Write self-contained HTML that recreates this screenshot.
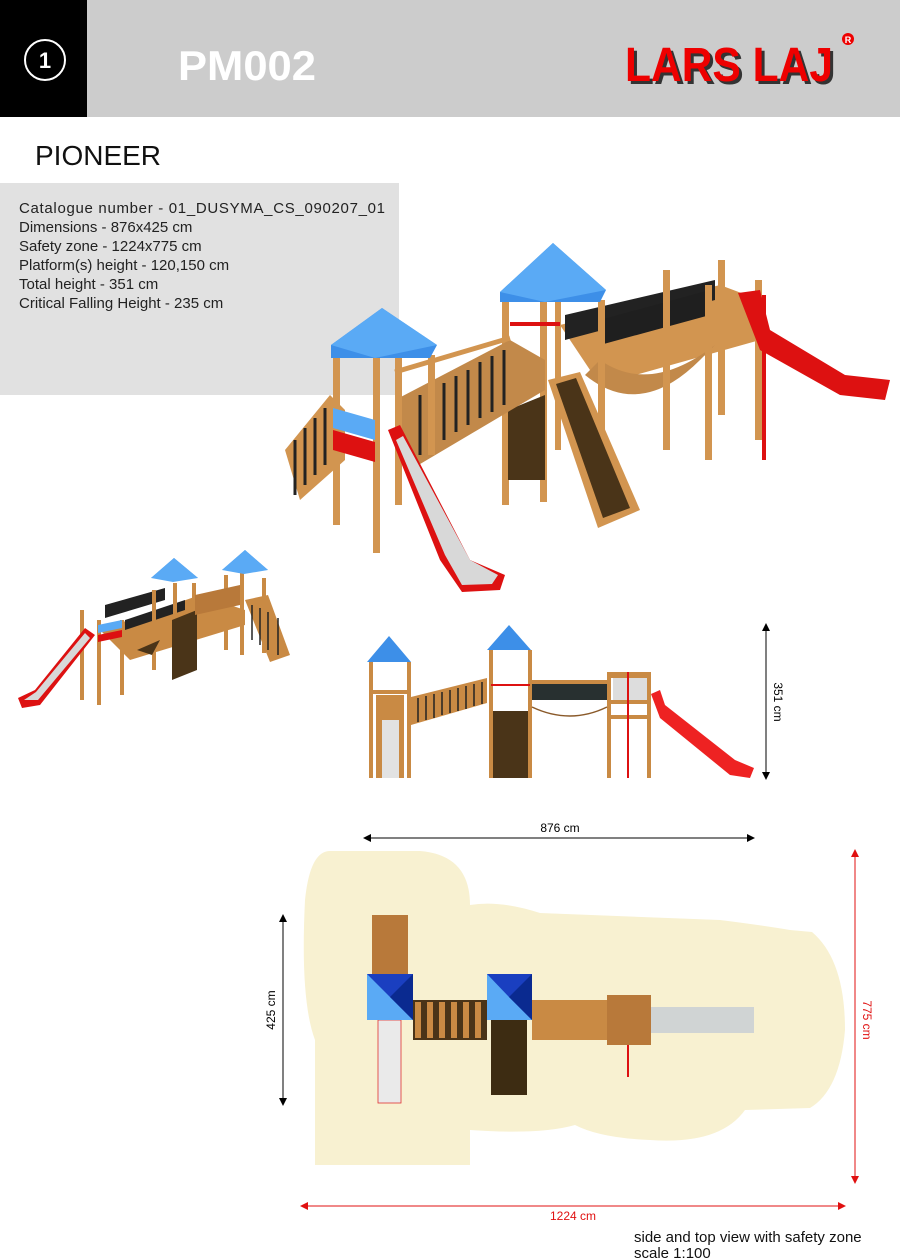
<!DOCTYPE html>
<html><head><meta charset="utf-8"><style>
html,body{margin:0;padding:0;background:#fff;}
svg{display:block;font-family:"Liberation Sans",sans-serif;}
</style></head><body>
<svg width="900" height="1259" viewBox="0 0 900 1259" xmlns="http://www.w3.org/2000/svg">
<rect x="0" y="0" width="900" height="117" fill="#cccccc"/>
<rect x="0" y="0" width="87" height="117" fill="#000"/>
<circle cx="45" cy="60" r="20" fill="none" stroke="#fff" stroke-width="2"/>
<text x="45" y="68" fill="#fff" font-size="22" font-weight="bold" text-anchor="middle">1</text>
<text x="178" y="80" fill="#fff" font-size="42" font-weight="bold" textLength="138" lengthAdjust="spacingAndGlyphs">PM002</text>
<text x="628" y="84" fill="#333" font-size="48" font-weight="bold" textLength="208" lengthAdjust="spacingAndGlyphs">LARS LAJ</text>
<text x="625" y="81" fill="#ee0000" font-size="48" font-weight="bold" textLength="208" lengthAdjust="spacingAndGlyphs">LARS LAJ</text>
<circle cx="848" cy="39" r="6" fill="#ee0000"/>
<text x="848" y="43" fill="#fff" font-size="9" font-weight="bold" text-anchor="middle">R</text>

<text x="35" y="165" fill="#111" font-size="28">PIONEER</text>
<rect x="0" y="183" width="399" height="212" fill="#e1e1e1"/>
<g font-size="15" fill="#222">
<text x="19" y="213" textLength="366" lengthAdjust="spacing">Catalogue number -  01_DUSYMA_CS_090207_01</text>
<text x="19" y="232">Dimensions - 876x425 cm</text>
<text x="19" y="251">Safety zone - 1224x775 cm</text>
<text x="19" y="270">Platform(s) height - 120,150 cm</text>
<text x="19" y="289">Total height - 351 cm</text>
<text x="19" y="308">Critical Falling Height - 235 cm</text>
</g>

<g>
<polygon points="560,325 720,285 760,300 760,340 600,385" fill="#d29550"/>
<polygon points="565,315 715,280 715,300 565,340" fill="#222"/>
<polygon points="600,320 710,290 710,315 600,345" fill="#1f1f1f"/>
<path d="M585,375 Q640,420 700,360 L715,345 Q650,395 600,360 Z" fill="#c2894a"/>
<g fill="#d29550">
<rect x="663" y="270" width="7" height="180"/><rect x="705" y="285" width="7" height="175"/>
<rect x="718" y="260" width="7" height="155"/><rect x="755" y="280" width="7" height="160"/>
</g>
<rect x="762" y="295" width="4" height="165" fill="#dd1111"/>
<path d="M738,293 L760,290 L770,330 L845,375 L890,380 L885,400 L840,395 L760,350 Z" fill="#dd1111"/>
<g fill="#d29550">
<rect x="502" y="300" width="7" height="205"/><rect x="540" y="302" width="7" height="200"/>
<rect x="598" y="300" width="7" height="130"/><rect x="555" y="300" width="6" height="150"/>
</g>
<polygon points="553,243 606,290 600,302 500,302 500,292" fill="#3d8fe8"/>
<polygon points="553,243 606,290 545,302 500,292" fill="#5aaaf5"/>
<rect x="510" y="322" width="50" height="4" fill="#dd1111"/>
<polygon points="508,410 545,395 545,480 508,480" fill="#4a3418"/>
<polygon points="548,380 580,372 640,510 598,528" fill="#d29550"/>
<polygon points="556,384 576,378 630,508 603,518" fill="#4a3418"/>
<polygon points="395,400 510,340 545,360 545,390 410,470" fill="#c2894a"/>
<g stroke="#222" stroke-width="3">
<line x1="420" y1="395" x2="420" y2="455"/><line x1="432" y1="390" x2="432" y2="448"/>
<line x1="444" y1="383" x2="444" y2="440"/><line x1="456" y1="376" x2="456" y2="432"/>
<line x1="468" y1="370" x2="468" y2="425"/><line x1="480" y1="362" x2="480" y2="418"/>
<line x1="492" y1="356" x2="492" y2="412"/><line x1="504" y1="350" x2="504" y2="405"/>
</g>
<line x1="395" y1="372" x2="510" y2="338" stroke="#d29550" stroke-width="5"/>
<polygon points="285,450 330,395 345,410 345,460 300,500" fill="#d29550"/>
<g stroke="#222" stroke-width="3">
<line x1="295" y1="440" x2="295" y2="495"/><line x1="305" y1="428" x2="305" y2="485"/>
<line x1="315" y1="418" x2="315" y2="475"/><line x1="325" y1="408" x2="325" y2="465"/>
</g>
<g fill="#d29550">
<rect x="333" y="355" width="7" height="170"/><rect x="373" y="358" width="7" height="195"/>
<rect x="395" y="355" width="7" height="150"/><rect x="428" y="355" width="7" height="100"/>
</g>
<polygon points="333,408 375,420 375,440 333,428" fill="#5aaaf5"/>
<polygon points="333,430 375,442 375,462 333,450" fill="#dd1111"/>
<polygon points="382,308 437,345 430,358 331,358 331,345" fill="#3d8fe8"/>
<polygon points="382,308 437,345 375,358 331,345" fill="#5aaaf5"/>
<polygon points="388,430 400,425 470,560 505,575 500,590 462,592 440,560" fill="#dd1111"/>
<polygon points="396,440 403,436 470,560 498,575 492,584 462,585 445,555" fill="#d8d8d8"/>
</g>

<g>
<polygon points="100,630 200,595 245,610 245,625 130,660" fill="#c98a44"/>
<polygon points="105,605 165,588 165,600 105,618" fill="#222"/>
<polygon points="125,620 185,600 185,610 125,630" fill="#222"/>
<g fill="#c98a44">
<rect x="80" y="610" width="4" height="90"/><rect x="97" y="620" width="4" height="85"/>
<rect x="120" y="620" width="4" height="75"/><rect x="152" y="590" width="4" height="80"/>
<rect x="173" y="583" width="4" height="95"/><rect x="192" y="583" width="4" height="85"/>
<rect x="224" y="575" width="4" height="75"/><rect x="240" y="570" width="4" height="85"/>
<rect x="262" y="578" width="4" height="75"/>
</g>
<polygon points="172,620 197,610 197,670 172,680" fill="#4a3418"/>
<polygon points="137,650 160,640 152,655" fill="#4a3418"/>
<polygon points="195,595 240,585 240,605 195,615" fill="#b8793a"/>
<polygon points="245,600 268,595 290,655 270,662" fill="#c98a44"/>
<g stroke="#222" stroke-width="1.5"><line x1="252" y1="605" x2="252" y2="640"/><line x1="260" y1="608" x2="260" y2="645"/><line x1="268" y1="612" x2="268" y2="650"/><line x1="278" y1="618" x2="278" y2="655"/></g>
<polygon points="98,625 122,620 122,628 98,633" fill="#5aaaf5"/>
<polygon points="98,635 122,630 122,637 98,642" fill="#dd1111"/>
<polygon points="174,558 198,578 151,578" fill="#3d8fe8"/>
<polygon points="174,558 198,578 173,582 151,578" fill="#5aaaf5"/>
<polygon points="245,550 268,570 222,570" fill="#3d8fe8"/>
<polygon points="245,550 268,570 244,574 222,570" fill="#5aaaf5"/>
<polygon points="85,628 95,635 40,705 22,708 18,698 35,690" fill="#dd1111"/>
<polygon points="85,633 90,638 38,700 24,700 36,692" fill="#d8d8d8"/>
</g>

<g>
<g fill="#c98a44">
<rect x="369" y="662" width="4" height="116"/><rect x="407" y="662" width="4" height="116"/>
<rect x="489" y="650" width="4" height="128"/><rect x="528" y="650" width="4" height="128"/>
<rect x="607" y="672" width="4" height="106"/><rect x="647" y="672" width="4" height="106"/>
<rect x="369" y="690" width="42" height="4"/><rect x="607" y="672" width="44" height="6"/>
<rect x="607" y="700" width="44" height="4"/><rect x="607" y="715" width="44" height="4"/>
</g>
<rect x="613" y="678" width="34" height="22" fill="#ddd"/>
<rect x="376" y="695" width="28" height="83" fill="#c98a44"/>
<rect x="382" y="720" width="17" height="58" fill="#e2e2e2"/>
<polygon points="411,697 487,678 487,703 411,725" fill="#c98a44"/>
<g stroke="#222" stroke-width="1.5">
<line x1="418" y1="698" x2="418" y2="722"/><line x1="426" y1="696" x2="426" y2="720"/><line x1="434" y1="694" x2="434" y2="718"/>
<line x1="442" y1="692" x2="442" y2="715"/><line x1="450" y1="690" x2="450" y2="713"/><line x1="458" y1="688" x2="458" y2="711"/>
<line x1="466" y1="686" x2="466" y2="709"/><line x1="474" y1="684" x2="474" y2="706"/><line x1="482" y1="682" x2="482" y2="704"/>
</g>
<rect x="493" y="711" width="35" height="67" fill="#4a3418"/>
<rect x="491" y="684" width="39" height="2" fill="#dd1111"/>
<rect x="532" y="684" width="75" height="16" fill="#283030"/>
<rect x="532" y="680" width="75" height="4" fill="#c98a44"/>
<path d="M532,707 Q570,725 607,707" stroke="#8a5a2a" stroke-width="1.5" fill="none"/>
<rect x="627" y="672" width="2" height="106" fill="#dd1111"/>
<polygon points="389,636 411,662 367,662" fill="#3d8fe8"/>
<polygon points="509,625 531,650 487,650" fill="#3d8fe8"/>
<path d="M651,694 L660,690 L665,705 L735,760 L754,768 L750,778 L730,775 L660,718 Z" fill="#ee2222"/>
</g>
<line x1="766" y1="628" x2="766" y2="775" stroke="#000" stroke-width="1"/>
<polygon points="766,623 762,631 770,631" fill="#000"/>
<polygon points="766,780 762,772 770,772" fill="#000"/>
<text x="774" y="702" font-size="12" transform="rotate(90 774 702)" text-anchor="middle">351 cm</text>

<line x1="368" y1="838" x2="750" y2="838" stroke="#000"/>
<polygon points="363,838 371,834 371,842" fill="#000"/>
<polygon points="755,838 747,834 747,842" fill="#000"/>
<text x="560" y="832" font-size="12" text-anchor="middle">876 cm</text>

<g fill="#f8f1d1">
<path d="M330,851 L420,851 Q470,855 470,905 L470,1165 L315,1165 L315,1040 Q300,1000 305,900 Q310,851 330,851 Z"/>
<path d="M470,905 Q500,900 540,913 L720,920 Q760,925 790,930 L812,932 Q845,960 845,1030 Q840,1090 810,1108 L745,1110 Q720,1145 650,1140 Q600,1138 575,1125 Q540,1135 470,1130 Z"/>
</g>
<line x1="283" y1="920" x2="283" y2="1100" stroke="#000"/>
<polygon points="283,914 279,922 287,922" fill="#000"/>
<polygon points="283,1106 279,1098 287,1098" fill="#000"/>
<text x="275" y="1010" font-size="12" transform="rotate(-90 275 1010)" text-anchor="middle">425 cm</text>
<line x1="855" y1="855" x2="855" y2="1178" stroke="#e01010"/>
<polygon points="855,849 851,857 859,857" fill="#e01010"/>
<polygon points="855,1184 851,1176 859,1176" fill="#e01010"/>
<text x="863" y="1020" font-size="12" fill="#e01010" transform="rotate(90 863 1020)" text-anchor="middle">775 cm</text>
<line x1="306" y1="1206" x2="840" y2="1206" stroke="#e01010"/>
<polygon points="300,1206 308,1202 308,1210" fill="#e01010"/>
<polygon points="846,1206 838,1202 838,1210" fill="#e01010"/>
<text x="573" y="1220" font-size="12" fill="#e01010" text-anchor="middle">1224 cm</text>

<g>
<rect x="372" y="915" width="36" height="60" fill="#b8793a"/>
<rect x="378" y="1020" width="23" height="83" fill="#eaeaea" stroke="#e03030" stroke-width="0.8"/>
<rect x="413" y="1000" width="74" height="40" fill="#4a3418"/>
<g fill="#c98a44"><rect x="415" y="1002" width="6" height="36"/><rect x="427" y="1002" width="6" height="36"/><rect x="439" y="1002" width="6" height="36"/><rect x="451" y="1002" width="6" height="36"/><rect x="463" y="1002" width="6" height="36"/><rect x="475" y="1002" width="6" height="36"/></g>
<rect x="491" y="1020" width="36" height="75" fill="#3d2c12"/>
<rect x="532" y="1000" width="75" height="40" fill="#c98a44"/>
<rect x="607" y="995" width="44" height="50" fill="#b8793a"/>
<rect x="651" y="1007" width="103" height="26" fill="#d0d4d4"/>
<rect x="627" y="1045" width="2" height="32" fill="#dd1111"/>
<polygon points="367,974 413,974 413,1020 367,1020" fill="#5aaaf5"/>
<polygon points="367,974 413,974 413,1020 390,997" fill="#1a3fc0"/>
<polygon points="413,974 413,1020 390,997" fill="#0a2a90"/>
<polygon points="487,974 532,974 532,1020 487,1020" fill="#5aaaf5"/>
<polygon points="487,974 532,974 532,1020 509,997" fill="#1a3fc0"/>
<polygon points="532,974 532,1020 509,997" fill="#0a2a90"/>
</g>

<text x="634" y="1242" font-size="15" fill="#111">side and top view with safety zone</text>
<text x="634" y="1258" font-size="15" fill="#111">scale 1:100</text>
</svg>
</body></html>
